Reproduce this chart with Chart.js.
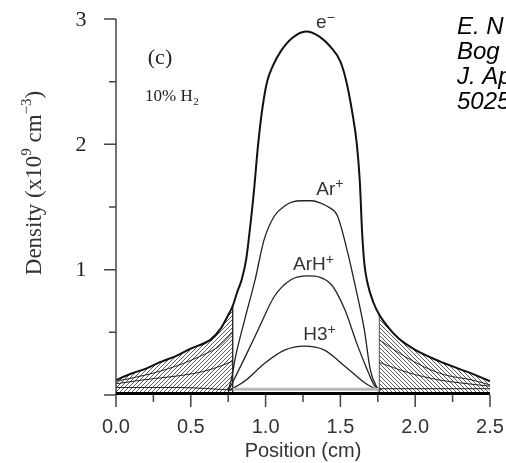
<!DOCTYPE html>
<html><head><meta charset="utf-8">
<script src="https://cdn.jsdelivr.net/npm/chart.js@4/dist/chart.umd.min.js"></script>
<style>html,body{margin:0;padding:0;background:#fff;overflow:hidden}</style>
</head><body>
<canvas id="c" width="506" height="463"></canvas>
<script>
// ---- data (Position in cm, Density in 1e9 cm^-3) ----
const xTickValues = [0, 0.5, 1, 1.5, 2, 2.5];
const xTickLabels = ['0.0', '0.5', '1.0', '1.5', '2.0', '2.5'];
const yTickValues = [1, 2, 3];
const yTickLabels = ['1', '2', '3'];

const ePos = [0, 0.1, 0.2, 0.29, 0.4, 0.5, 0.63, 0.7, 0.76, 0.78, 0.81, 0.84, 0.87, 0.89, 0.92, 0.95, 0.98, 1.01, 1.05, 1.1, 1.18, 1.27, 1.36, 1.44, 1.5, 1.54, 1.58, 1.61, 1.63, 1.645, 1.66, 1.68, 1.72, 1.76, 1.82, 1.89, 2.0, 2.16, 2.38, 2.5];
const eDen = [0.12, 0.17, 0.21, 0.26, 0.31, 0.37, 0.44, 0.53, 0.66, 0.71, 0.82, 0.92, 1.08, 1.27, 1.6, 2.0, 2.3, 2.5, 2.63, 2.74, 2.85, 2.9, 2.86, 2.77, 2.66, 2.5, 2.25, 2.0, 1.7, 1.3, 1.05, 0.9, 0.74, 0.64, 0.54, 0.45, 0.36, 0.27, 0.17, 0.11];

const arPos = [0.75, 0.77, 0.8, 0.86, 0.93, 0.99, 1.06, 1.13, 1.18, 1.24, 1.31, 1.37, 1.42, 1.48, 1.55, 1.59, 1.66, 1.70, 1.74, 1.77];
const arDen = [0.04, 0.12, 0.31, 0.6, 0.92, 1.24, 1.43, 1.51, 1.54, 1.55, 1.55, 1.53, 1.5, 1.43, 1.13, 0.92, 0.52, 0.2, 0.07, 0.04];

const arhPos = [0.75, 0.8, 0.87, 0.95, 1.06, 1.17, 1.28, 1.44, 1.53, 1.61, 1.68, 1.73, 1.77];
const arhDen = [0.03, 0.15, 0.32, 0.52, 0.79, 0.92, 0.95, 0.88, 0.68, 0.41, 0.2, 0.07, 0.04];

const h3Pos = [0.75, 0.87, 0.99, 1.13, 1.26, 1.39, 1.53, 1.66, 1.76];
const h3Den = [0.03, 0.12, 0.25, 0.36, 0.39, 0.36, 0.23, 0.1, 0.03];

const bulkLinePos = [0.78, 1.76];
const bulkLineDen = [0.045, 0.045];

// sheath curves (left and right)
const sheathL1Pos = [0, 0.2, 0.4, 0.6, 0.69, 0.78];
const sheathL1Den = [0.11, 0.16, 0.23, 0.33, 0.39, 0.5];
const sheathL2Pos = [0, 0.18, 0.51, 0.65, 0.78];
const sheathL2Den = [0.09, 0.12, 0.17, 0.21, 0.27];
const sheathL3Pos = [0, 0.4, 0.78];
const sheathL3Den = [0.06, 0.06, 0.04];
const sheathR1Pos = [1.76, 1.9, 2.05, 2.2, 2.38, 2.5];
const sheathR1Den = [0.44, 0.33, 0.23, 0.16, 0.12, 0.08];
const sheathR2Pos = [1.76, 1.95, 2.16, 2.35, 2.5];
const sheathR2Den = [0.26, 0.18, 0.12, 0.09, 0.07];
const sheathR3Pos = [1.76, 2.5];
const sheathR3Den = [0.05, 0.05];

const sheathLeftEdge = 0.78;
const sheathRightEdge = 1.76;

// ---- helpers ----
const pts = (xs, ys) => xs.map((x, i) => ({ x: x, y: ys[i] }));
const ePts = pts(ePos, eDen);
const leftSheath = ePts.filter(p => p.x <= sheathLeftEdge).concat([{ x: sheathLeftEdge, y: 0 }]);
const rightSheath = [{ x: sheathRightEdge, y: 0 }].concat(ePts.filter(p => p.x >= sheathRightEdge));

function hatch(dir) {
  const s = 4;
  const c = document.createElement('canvas');
  c.width = s; c.height = s;
  const g = c.getContext('2d');
  g.strokeStyle = 'rgba(15,15,15,0.75)';
  g.lineWidth = 0.9;
  g.beginPath();
  if (dir > 0) {
    g.moveTo(0, s); g.lineTo(s, 0);
    g.moveTo(-1, 1); g.lineTo(1, -1);
    g.moveTo(s - 1, s + 1); g.lineTo(s + 1, s - 1);
  } else {
    g.moveTo(0, 0); g.lineTo(s, s);
    g.moveTo(-1, s - 1); g.lineTo(1, s + 1);
    g.moveTo(s - 1, -1); g.lineTo(s + 1, 1);
  }
  g.stroke();
  return g.createPattern(c, 'repeat');
}

const lineDs = (data, w, color) => ({
  data: data, borderColor: color || '#111', borderWidth: w, pointRadius: 0,
  fill: false, cubicInterpolationMode: 'monotone', order: 1
});

const datasets = [
  { data: leftSheath, borderWidth: 0.8, borderColor: '#222', pointRadius: 0, fill: 'origin', backgroundColor: hatch(1), tension: 0, order: 3 },
  { data: rightSheath, borderWidth: 0.8, borderColor: '#222', pointRadius: 0, fill: 'origin', backgroundColor: hatch(-1), tension: 0, order: 3 },
  lineDs(pts(sheathL1Pos, sheathL1Den), 1, '#222'),
  lineDs(pts(sheathL2Pos, sheathL2Den), 1, '#222'),
  lineDs(pts(sheathL3Pos, sheathL3Den), 1, '#222'),
  lineDs(pts(sheathR1Pos, sheathR1Den), 1, '#222'),
  lineDs(pts(sheathR2Pos, sheathR2Den), 1, '#222'),
  lineDs(pts(sheathR3Pos, sheathR3Den), 1, '#222'),
  lineDs(pts(bulkLinePos, bulkLineDen), 3, '#b8b8b8'),
  lineDs(pts(h3Pos, h3Den), 1.3, '#222'),
  lineDs(pts(arhPos, arhDen), 1.3, '#222'),
  lineDs(pts(arPos, arDen), 1.3, '#222'),
  lineDs(ePts, 2, '#111')
];

const curveLabels = [
  { base: 'e', sup: '\u2212', x: 1.4, y: 2.97 },
  { base: 'Ar', sup: '+', x: 1.43, y: 1.64 },
  { base: 'ArH', sup: '+', x: 1.32, y: 1.04 },
  { base: 'H3', sup: '+', x: 1.36, y: 0.48 }
];
const citation = ['E. N', 'Bog', 'J. Ap', '5025'];

const SERIF = '"Liberation Serif", "Times New Roman", serif';
const SANS = '"Liberation Sans", Arial, sans-serif';

const deco = {
  id: 'deco',
  afterDatasetsDraw(chart) {
    const ctx = chart.ctx, xs = chart.scales.x, ys = chart.scales.y;
    ctx.save();
    // y axis
    const x0 = xs.getPixelForValue(0);
    ctx.strokeStyle = '#444'; ctx.lineWidth = 1.5;
    ctx.beginPath();
    ctx.moveTo(x0, ys.getPixelForValue(0)); ctx.lineTo(x0, ys.getPixelForValue(3));
    for (let v = 0; v <= 3.001; v += 0.5) {
      const py = ys.getPixelForValue(v);
      const len = Math.abs(v - Math.round(v)) < 1e-6 ? 12 : 7;
      ctx.moveTo(x0 - len, py); ctx.lineTo(x0, py);
    }
    ctx.stroke();
    // y tick labels
    ctx.fillStyle = '#222';
    ctx.font = '22px ' + SERIF;
    ctx.textAlign = 'center'; ctx.textBaseline = 'middle';
    yTickValues.forEach((v, i) => ctx.fillText(yTickLabels[i], 81, ys.getPixelForValue(v) + 1));
    // x ticks
    const yb = ys.getPixelForValue(0);
    ctx.beginPath();
    for (let v = 0; v <= 2.501; v += 0.25) {
      const px = xs.getPixelForValue(v);
      const len = Math.abs(v * 2 - Math.round(v * 2)) < 1e-6 ? 12 : 7;
      ctx.moveTo(px, yb); ctx.lineTo(px, yb + len);
    }
    ctx.stroke();
    // x axis thick line
    ctx.strokeStyle = '#000'; ctx.lineWidth = 3;
    ctx.beginPath();
    ctx.moveTo(x0, yb - 1.5); ctx.lineTo(xs.getPixelForValue(2.5), yb - 1.5);
    ctx.stroke();

    // curve labels
    ctx.fillStyle = '#333'; ctx.textBaseline = 'middle';
    curveLabels.forEach(l => {
      ctx.font = '19px ' + SANS;
      const w = ctx.measureText(l.base).width;
      ctx.font = '14px ' + SANS;
      const ws = ctx.measureText(l.sup).width;
      const cx = xs.getPixelForValue(l.x), cy = ys.getPixelForValue(l.y);
      const left = cx - (w + ws) / 2;
      ctx.textAlign = 'left';
      ctx.font = '19px ' + SANS;
      ctx.fillText(l.base, left, cy);
      ctx.font = '14px ' + SANS;
      ctx.fillText(l.sup, left + w, cy - 5);
    });

    // panel texts
    ctx.fillStyle = '#222';
    ctx.font = '22px ' + SERIF;
    ctx.textAlign = 'center';
    ctx.fillText('(c)', 160, 58);
    ctx.textAlign = 'left';
    ctx.font = '17px ' + SERIF;
    ctx.fillText('10% H', 145, 97);
    const wH = ctx.measureText('10% H').width;
    ctx.font = '11px ' + SERIF;
    ctx.fillText('2', 145 + wH + 0.5, 102);

    // y title
    ctx.save();
    ctx.translate(35, 183);
    ctx.rotate(-Math.PI / 2);
    const parts = [['Density (x10', 23, 0], ['9', 15, -8], [' cm', 23, 0], ['\u22123', 15, -8], [')', 23, 0]];
    let total = 0;
    parts.forEach(p => { ctx.font = p[1] + 'px ' + SERIF; total += ctx.measureText(p[0]).width; });
    let xx = -total / 2;
    ctx.textAlign = 'left';
    ctx.fillStyle = '#333';
    parts.forEach(p => {
      ctx.font = p[1] + 'px ' + SERIF;
      ctx.fillText(p[0], xx, p[2]);
      xx += ctx.measureText(p[0]).width;
    });
    ctx.restore();

    // citation
    ctx.fillStyle = '#000';
    ctx.font = 'italic 24px ' + SANS;
    ctx.textAlign = 'left';
    citation.forEach((t, i) => ctx.fillText(t, 457, 27 + i * 25));
    ctx.restore();
  }
};

new Chart(document.getElementById('c'), {
  type: 'line',
  data: { datasets: datasets },
  options: {
    responsive: false, animation: false, devicePixelRatio: 1,
    layout: { padding: { left: 0, right: 16, top: 19, bottom: 0 } },
    plugins: { legend: { display: false }, tooltip: { enabled: false } },
    scales: {
      x: {
        type: 'linear', min: 0, max: 2.5,
        afterBuildTicks: s => { s.ticks = xTickValues.map(v => ({ value: v })); },
        ticks: { callback: (v) => xTickLabels[xTickValues.indexOf(v)] || '', color: '#333', padding: 20, maxRotation: 0,
          font: { family: SANS, size: 20 } },
        grid: { display: false, drawTicks: false }, border: { display: false },
        title: { display: true, text: 'Position (cm)', color: '#333', padding: { top: 0, bottom: 0 },
          font: { family: SANS, size: 20 } },
        afterFit: s => { s.height = 68; s.paddingLeft = 0; s.paddingRight = 0; }
      },
      y: {
        type: 'linear', min: 0, max: 3,
        ticks: { display: false },
        grid: { display: false, drawTicks: false }, border: { display: false },
        afterFit: s => { s.width = 116; s.paddingTop = 0; s.paddingBottom = 0; }
      }
    }
  },
  plugins: [deco]
});
</script>
</body></html>
